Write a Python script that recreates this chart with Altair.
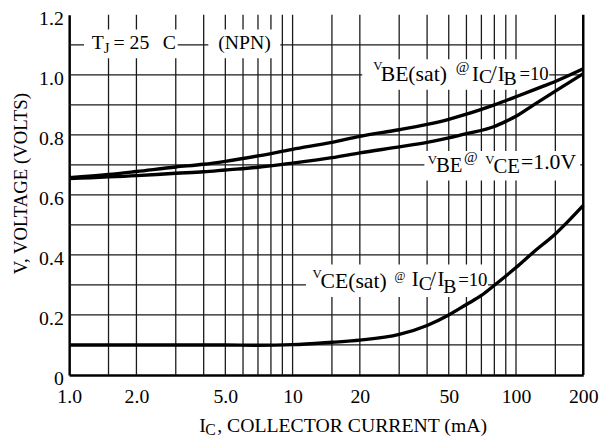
import altair as alt
import pandas as pd

FONT = "Liberation Serif"

# ---- data ----
ic_bes = [1, 1.5, 2, 3, 4, 5, 7, 10, 15, 20, 30, 40, 50, 60, 70, 80, 100, 130, 150, 200]
vbe_sat = [0.657, 0.668, 0.678, 0.693, 0.702, 0.712, 0.730, 0.752, 0.775, 0.795, 0.817, 0.835, 0.852,
           0.869, 0.885, 0.900, 0.927, 0.960, 0.978, 1.020]

ic_be = [1, 2, 3, 4, 5, 7, 10, 15, 20, 30, 40, 50, 60, 80, 90, 100, 120, 150, 200]
vbe_on = [0.654, 0.664, 0.672, 0.677, 0.683, 0.692, 0.706, 0.724, 0.740, 0.760, 0.775, 0.790, 0.804,
          0.828, 0.845, 0.862, 0.900, 0.946, 1.004]

ic_ce = [1, 2, 3, 5, 7, 10, 15, 20, 30, 40, 50, 60, 70, 80, 100, 120, 150, 200]
vce_sat = [0.100, 0.100, 0.100, 0.100, 0.099, 0.101, 0.109, 0.116, 0.135, 0.165, 0.200, 0.235, 0.265,
           0.299, 0.358, 0.410, 0.470, 0.565]

x_ticks = [1, 2, 5, 10, 20, 50, 100, 200]
y_ticks = [0, 0.2, 0.4, 0.6, 0.8, 1.0, 1.2]
x_grid = [1.5, 2, 3, 4, 5, 6, 7, 8, 9, 10, 15, 20, 30, 40, 50, 60, 70, 80, 90, 100, 150]
y_grid = [0.1, 0.2, 0.3, 0.4, 0.5, 0.6, 0.7, 0.8, 0.9, 1.0, 1.1]
x_edge = [200]

# label background boxes (data coords)
box_x1 = [1.165, 4.196, 20.5, 38.9, 11.48]
box_x2 = [3.06, 8.81, 141.0, 194.0, 75.0]
box_y1 = [1.151, 1.151, 1.052, 0.746, 0.368]
box_y2 = [1.055, 1.055, 0.950, 0.648, 0.260]

# label anchors (data coords)
lab_x = [1.263, 4.645, 22.99, 40.24, 12.29]
lab_y = [1.085, 1.085, 0.983, 0.686, 0.298]
# fragments: (label index, text, dx, dy, size)
frags = [
    (0, "T", 0, 0, 20), (0, "J", 12, 4, 15), (0, "= 25", 22, 0, 20), (0, "C", 72, 0, 20),
    (1, "(NPN)", 0, 0, 20),
    (2, "V", 0, -10, 13), (2, "BE(sat)", 7.4, 1, 22), (2, "@", 83.4, -8, 15), (2, "I", 100, 1, 21),
    (2, "C", 107, 3, 20), (2, "/", 119, 0, 22), (2, "I", 126, 1, 21), (2, "B", 132, 5, 20),
    (2, "=10", 148, 0, 19),
    (3, "V", 0, -5, 13), (3, "BE", 8.4, 3, 21), (3, "@", 36.7, -7, 15), (3, "V", 58.4, -5, 13),
    (3, "CE", 66.7, 4, 21), (3, "=1.0V", 94.7, 0, 22),
    (4, "V", 0, -8, 13), (4, "CE(sat)", 8, 3, 22), (4, "@", 83, -6, 12), (4, "I", 100.5, 0, 21),
    (4, "C", 107.5, 5, 20), (4, "/", 119, 0, 22), (4, "I", 126.6, 0, 21), (4, "B", 132.5, 8, 20),
    (4, "=10", 147.5, 0, 19),
]

xs = alt.Scale(type="log", domain=[1, 200], nice=False)
ys = alt.Scale(domain=[0, 1.2], nice=False, zero=False)

xaxis = alt.Axis(values=x_ticks,
                 labelExpr="datum.value == 1 ? '1.0' : datum.value == 2 ? '2.0' : datum.value == 5 ? '5.0' : format(datum.value, 'd')",
                 grid=False, ticks=False, domainWidth=2.5, domainColor="black",
                 labelFont=FONT, labelFontSize=20, labelColor="black", labelPadding=12,
                 labelFlush=False, labelOverlap=False, title=None)
yaxis = alt.Axis(values=y_ticks,
                 labelExpr="datum.value == 0 ? '0' : format(datum.value, '.1f')",
                 grid=False, ticks=False, domainWidth=2.5, domainColor="black",
                 labelFont=FONT, labelFontSize=20, labelColor="black", labelPadding=6,
                 labelFlush=False, labelOverlap=False, labelOffset=4, title=None)

GRID = "#1a1a1a"

vgrid = alt.Chart(pd.DataFrame({"x": x_grid})).mark_rule(color=GRID, strokeWidth=1.3).encode(
    x=alt.X("x:Q", scale=xs, axis=xaxis))
hgrid = alt.Chart(pd.DataFrame({"y": y_grid})).mark_rule(color=GRID, strokeWidth=1.3).encode(
    y=alt.Y("y:Q", scale=ys, axis=yaxis))

boxes = alt.Chart(pd.DataFrame({"x1": box_x1, "x2": box_x2, "y1": box_y1, "y2": box_y2})).mark_rect(
    color="white").encode(
    x=alt.X("x1:Q", scale=xs, axis=xaxis), x2="x2:Q",
    y=alt.Y("y1:Q", scale=ys, axis=yaxis), y2="y2:Q")

edge = alt.Chart(pd.DataFrame({"x": x_edge})).mark_rule(color="black", strokeWidth=2.5).encode(
    x=alt.X("x:Q", scale=xs, axis=xaxis))

curves_df = pd.concat([
    pd.DataFrame({"ic": ic_bes, "v": vbe_sat, "s": "VBE(sat)"}),
    pd.DataFrame({"ic": ic_be, "v": vbe_on, "s": "VBE"}),
    pd.DataFrame({"ic": ic_ce, "v": vce_sat, "s": "VCE(sat)"}),
])
curves = alt.Chart(curves_df).mark_line(color="black", strokeWidth=3.4, interpolate="monotone").encode(
    x=alt.X("ic:Q", scale=xs, axis=xaxis),
    y=alt.Y("v:Q", scale=ys, axis=yaxis),
    detail="s:N")

layers = [vgrid, hgrid, boxes, edge, curves]

for li, txt, dx, dy, size in frags:
    df = pd.DataFrame({"x": [lab_x[li]], "y": [lab_y[li]], "t": [txt]})
    layers.append(alt.Chart(df).mark_text(align="left", baseline="alphabetic", dx=dx, dy=dy,
                                          fontSize=size, font=FONT, color="black").encode(
        x=alt.X("x:Q", scale=xs, axis=xaxis),
        y=alt.Y("y:Q", scale=ys, axis=yaxis),
        text="t:N"))

# axis titles (with subscript)
def title_text(txt, x, y, size, angle=0, align="left", baseline="alphabetic"):
    kw = dict(align=align, baseline=baseline, fontSize=size, font=FONT, color="black")
    if angle:
        kw["angle"] = angle
    return alt.Chart(pd.DataFrame({"t": [txt]})).mark_text(**kw).encode(
        x=alt.value(x), y=alt.value(y), text="t:N")

layers += [
    title_text("I", 131.7, 423, 20),
    title_text("C", 138, 426, 16),
    title_text(", COLLECTOR CURRENT (mA)", 150, 423, 20),
    title_text("V, VOLTAGE (VOLTS)", -49, 171, 19, angle=270, align="center", baseline="middle"),
]

chart = alt.layer(*layers).properties(
    width=521, height=365,
    autosize=alt.AutoSizeParams(type="none"),
    padding={"left": 62, "top": 4, "right": 19, "bottom": 64},
    background="white",
).configure_view(stroke=None).configure_axis(
    labelFont=FONT, labelFontSize=20, labelColor="black"
)

chart.save("out.html", embed_options={"renderer": "svg", "actions": False})
